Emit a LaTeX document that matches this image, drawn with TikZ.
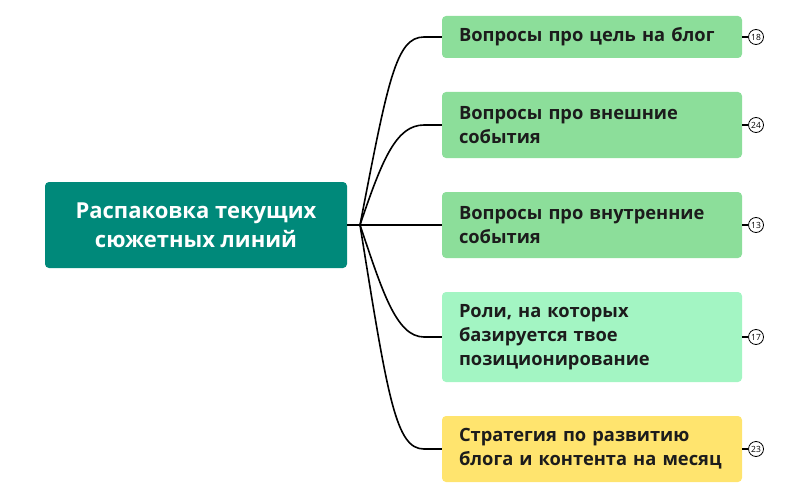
\documentclass[tikz,border=0pt]{standalone}
\usepackage{fontspec}
\setmainfont{Open Sans}
\usetikzlibrary{positioning,calc}

\definecolor{rootteal}{HTML}{00897A}
\definecolor{subgreen}{HTML}{8CDE9A}
\definecolor{sublight}{HTML}{A3F5C3}
\definecolor{subyellow}{HTML}{FFE46E}
\definecolor{txtdark}{HTML}{1C1C1C}

\begin{document}
\begin{tikzpicture}[x=1pt,y=-1pt,
    root/.style={rectangle,rounded corners=4pt,fill=rootteal,text=white,align=center,
        minimum width=302pt,minimum height=86pt,font=\bfseries\fontsize{22}{29}\selectfont},
    sub/.style={rectangle,rounded corners=4pt,text=txtdark,align=left,inner xsep=17pt,
        text width=266pt,minimum width=300pt,font=\bfseries\fontsize{18.3}{24}\selectfont},
    badge/.style={circle,draw,line width=0.8pt,inner sep=0pt,minimum size=15pt,
        font=\fontsize{8.5}{8.5}\selectfont},
    link/.style={line width=1.6pt,black}]
        \useasboundingbox (0,0) rectangle (808,500);

        \node[root] (root) at (196,225) {Распаковка текущих\\сюжетных линий};
        \coordinate (hub) at (360,225);

        \node[sub,fill=subgreen,minimum height=42pt] (goal) at (592,37) {Вопросы про цель на блог};
        \node[sub,fill=subgreen,minimum height=66pt] (ext) at (592,125) {Вопросы про внешние\\события};
        \node[sub,fill=subgreen,minimum height=66pt] (int) at (592,225) {Вопросы про внутренние\\события};
        \node[sub,fill=sublight,minimum height=90pt] (roles) at (592,337) {Роли, на которых\\базируется твое\\позиционирование};
        \node[sub,fill=subyellow,minimum height=66pt] (plan) at (592,449) {Стратегия по развитию\\блога и контента на месяц};

        \node[badge] (n1) at (756,37) {18};
        \node[badge] (n2) at (756,125) {24};
        \node[badge] (n3) at (756,225) {13};
        \node[badge] (n4) at (756,337) {17};
        \node[badge] (n5) at (756,449) {23};

        \draw[link] (root.east) -- (hub);
        \draw[link] (hub) .. controls (388,80) and (396,37) .. (424,37) -- (goal.west);
        \draw[link] (hub) .. controls (382,160) and (396,125) .. (424,125) -- (ext.west);
        \draw[link] (hub) -- (int.west);
        \draw[link] (hub) .. controls (382,290) and (396,337) .. (424,337) -- (roles.west);
        \draw[link] (hub) .. controls (388,400) and (396,449) .. (424,449) -- (plan.west);

        \draw[link,line width=1.4pt] (goal.east) -- (n1);
        \draw[link,line width=1.4pt] (ext.east) -- (n2);
        \draw[link,line width=1.4pt] (int.east) -- (n3);
        \draw[link,line width=1.4pt] (roles.east) -- (n4);
        \draw[link,line width=1.4pt] (plan.east) -- (n5);
\end{tikzpicture}
\end{document}
